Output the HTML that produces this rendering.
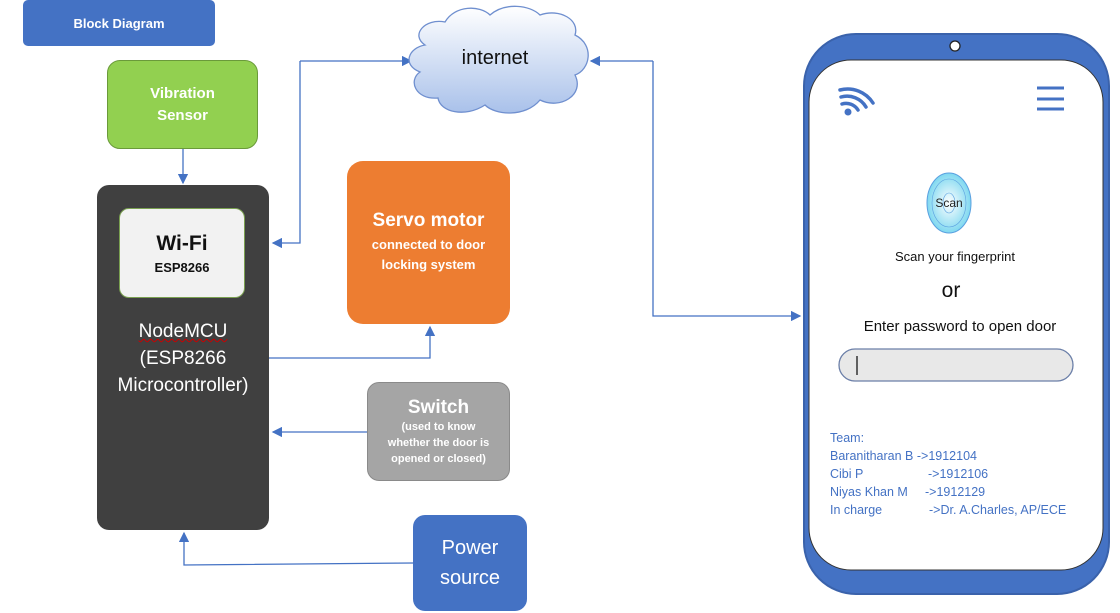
<!DOCTYPE html>
<html><head><style>
body{margin:0;width:1120px;height:613px;background:#fff;position:relative;overflow:hidden;font-family:"Liberation Sans",sans-serif}
.b{position:absolute;box-sizing:border-box;display:flex;flex-direction:column;align-items:center;justify-content:center;text-align:center;color:#fff;font-weight:bold}
</style></head><body>
<svg width="1120" height="613" style="position:absolute;left:0;top:0">
<defs><marker id="a" markerWidth="8" markerHeight="8" refX="7" refY="4" orient="auto"><path d="M0,0 L8,4 L0,8 z" fill="#4472c4"/></marker>
<linearGradient id="cg" x1="0" y1="0" x2="0" y2="1"><stop offset="0" stop-color="#fff"/><stop offset="1" stop-color="#a9c1ea"/></linearGradient>
<radialGradient id="fg"><stop offset="0" stop-color="#fff"/><stop offset="1" stop-color="#7fd8f0"/></radialGradient></defs>
<g fill="none" stroke="#4472c4" stroke-width="1.3">
<path d="M183,149 V183" marker-end="url(#a)"/>
<path d="M300,61 V243 H273" marker-end="url(#a)"/>
<path d="M300,61 H411" marker-end="url(#a)"/>
<path d="M269,358 H430 V327" marker-end="url(#a)"/>
<path d="M367,432 H273" marker-end="url(#a)"/>
<path d="M413,563 L184,565 V533" marker-end="url(#a)"/>
<path d="M653,61 H591" marker-end="url(#a)"/>
<path d="M653,61 V316 H800" marker-end="url(#a)"/>
</g>
<path d="M425,45 C410,35 425,18 445,22 C455,5 480,5 490,15 C505,2 530,5 540,15 C560,8 580,20 575,35 C595,45 590,70 575,75 C585,95 560,110 540,100 C525,118 495,115 485,105 C465,118 440,112 438,98 C415,100 408,80 420,72 C402,65 408,48 425,45 Z" fill="url(#cg)" stroke="#6f8fcf" stroke-width="1.3"/>
<text x="495" y="64" font-size="20" text-anchor="middle" fill="#111" font-family="Liberation Sans">internet</text>
<rect x="804" y="34" width="305" height="560" rx="52" fill="#4472c4" stroke="#3a62ab" stroke-width="2"/>
<rect x="809" y="60" width="294" height="510" rx="42" fill="#fff" stroke="#333" stroke-width="1"/>
<circle cx="955" cy="46" r="5" fill="#fff" stroke="#222" stroke-width="1.3"/>
<g fill="none" stroke="#4472c4" stroke-width="3.5" stroke-linecap="round">
<path d="M840,90 A30,30 0 0 1 873,103"/><path d="M841,97 A22,22 0 0 1 866,107"/><path d="M842,104 A14,14 0 0 1 858,110"/></g>
<circle cx="848" cy="112" r="3.5" fill="#4472c4"/>
<g stroke="#4472c4" stroke-width="3"><path d="M1037,88 H1064 M1037,99 H1064 M1037,109 H1064"/></g>
<ellipse cx="949" cy="203" rx="22" ry="30" fill="url(#fg)" stroke="#5aa0e0"/>
<ellipse cx="949" cy="203" rx="17" ry="24" fill="none" stroke="#5aa0e0" stroke-width=".6"/>
<ellipse cx="949" cy="203" rx="6" ry="10" fill="none" stroke="#5aa0e0" stroke-width=".6"/>
<text x="949" y="207" font-size="12" text-anchor="middle" fill="#222">Scan</text>
<text x="955" y="261" font-size="13" text-anchor="middle" fill="#111">Scan your fingerprint</text>
<text x="951" y="297" font-size="21" text-anchor="middle" fill="#111">or</text>
<text x="960" y="331" font-size="15" text-anchor="middle" fill="#111">Enter password to open door</text>
<rect x="839" y="349" width="234" height="32" rx="16" fill="#e8e8e8" stroke="#6b7fa8" stroke-width="1.3"/>
<path d="M857,356 V375" stroke="#333" stroke-width="1.5"/>
<g font-size="12.5" fill="#4472c4">
<text x="830" y="442">Team:</text>
<text x="830" y="460">Baranitharan B  -&gt;1912104</text>
<text x="830" y="478">Cibi P</text><text x="928" y="478">-&gt;1912106</text>
<text x="830" y="496">Niyas Khan M</text><text x="925" y="496">-&gt;1912129</text>
<text x="830" y="514">In charge</text><text x="929" y="514">-&gt;Dr. A.Charles, AP/ECE</text>
</g>
</svg>
<div class="b" style="left:23px;top:0;width:192px;height:46px;background:#4472c4;border-radius:5px;font-size:13px">Block Diagram</div>
<div class="b" style="left:107px;top:60px;width:151px;height:89px;background:#92d050;border:1px solid #6a9a3a;border-radius:13px;font-size:15px;line-height:22px">Vibration<br>Sensor</div>
<div class="b" style="left:97px;top:185px;width:172px;height:345px;background:#404040;border-radius:12px;justify-content:flex-start"></div>
<div class="b" style="left:119px;top:208px;width:126px;height:90px;background:#f2f2f2;border:1px solid #7aa050;border-radius:10px;color:#111"><div style="font-size:21px">Wi-Fi</div><div style="font-size:13px;margin-top:4px">ESP8266</div></div>
<div class="b" style="left:97px;top:318px;width:172px;font-weight:normal;font-size:19px;line-height:27px"><span style="text-decoration:underline wavy #c00;text-decoration-thickness:1px">NodeMCU</span>(ESP8266<br>Microcontroller)</div>
<div class="b" style="left:347px;top:161px;width:163px;height:163px;background:#ed7d31;border-radius:16px"><div style="font-size:19px">Servo motor</div><div style="font-size:13px;line-height:20px;margin-top:3px">connected to door<br>locking system</div></div>
<div class="b" style="left:367px;top:382px;width:143px;height:99px;background:#a5a5a5;border:1px solid #8a8a8a;border-radius:12px"><div style="font-size:19px">Switch</div><div style="font-size:11px;line-height:16px">(used to know<br>whether the door is<br>opened or closed)</div></div>
<div class="b" style="left:413px;top:515px;width:114px;height:96px;background:#4472c4;border-radius:12px;font-weight:normal;font-size:20px;line-height:30px">Power<br>source</div>
</body></html>
